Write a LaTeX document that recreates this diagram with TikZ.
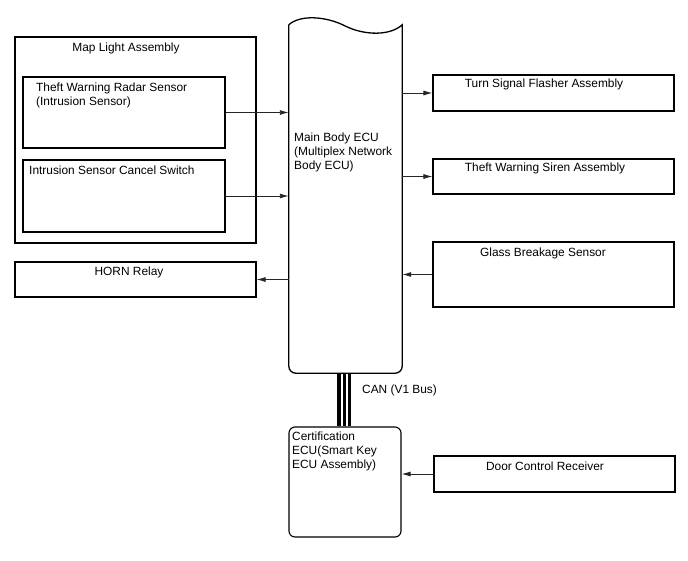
\documentclass[tikz,border=0pt]{standalone}
\usepackage{fontspec}
\setmainfont{Liberation Sans}
\usetikzlibrary{arrows.meta, calc}

\begin{document}
\begin{tikzpicture}[x=1pt, y=-1pt,
  box/.style={rectangle, draw=black, line width=1.1pt, inner sep=0pt},
  lbl/.style={font=\fontsize{11.9}{14}\selectfont, inner sep=0pt, align=left},
  arr/.style={draw=black!85, line width=0.9pt, -{Latex[length=9pt,width=5pt]}},
  eculine/.style={draw=black, line width=1.3pt},
]
\useasboundingbox (0,0) rectangle (688,560);

% left side
\node[box, minimum width=241, minimum height=206] (maplight) at (135.5,140) {};
\node[box, minimum width=202, minimum height=71]  (radar)    at (124,112.5) {};
\node[box, minimum width=202, minimum height=72]  (cancel)   at (124,196) {};
\node[box, minimum width=241, minimum height=35]  (horn)     at (135.5,279.5) {};

% right side
\node[box, minimum width=241, minimum height=36] (turn)  at (553.5,93) {};
\node[box, minimum width=241, minimum height=35] (siren) at (553.5,176.5) {};
\node[box, minimum width=241, minimum height=65] (glass) at (553.5,274.5) {};
\node[box, minimum width=241, minimum height=36] (door)  at (554.5,474) {};

% ECUs
\node[minimum width=113, minimum height=348, inner sep=0pt] (ecu) at (345.5,199) {};
\draw[eculine] (ecu.north west) .. controls +(11,-10) and +(-20,-10) .. ($(ecu.north west)+(56,1)$)
  .. controls +(20,10) and +(-12,11) .. (ecu.north east)
  [rounded corners=7pt] -- (ecu.south east) -- (ecu.south west) -- (ecu.north west);
\node[box, rounded corners=6pt, minimum width=112, minimum height=110] (cert) at (345,482) {};

% CAN bus
\foreach \dx/\lw in {-6.5/4.3, -1/2.3, 4.2/2.7}
  \draw[line width=\lw pt] ([xshift=\dx pt]ecu.south) -- ([xshift=\dx pt]ecu.south |- cert.north);

% texts
\node[lbl, anchor=north]      (maplighttxt) at (126,43)    {Map Light Assembly};
\node[lbl, anchor=north west] (radartxt)    at (36,82.7)   {Theft Warning Radar Sensor\\(Intrusion Sensor)};
\node[lbl, anchor=north west] (canceltxt)   at (29,166)    {Intrusion Sensor Cancel Switch};
\node[lbl, anchor=north]      (horntxt)     at (129,266.7) {HORN Relay};
\node[lbl, anchor=north west] (ecutxt)      at (294,132.3) {Main Body ECU\\(Multiplex Network\\Body ECU)};
\node[lbl, anchor=north]      (turntxt)     at (544,78.3)  {Turn Signal Flasher Assembly};
\node[lbl, anchor=north]      (sirentxt)    at (545,162.7) {Theft Warning Siren Assembly};
\node[lbl, anchor=north]      (glasstxt)    at (543,247.7) {Glass Breakage Sensor};
\node[lbl, anchor=north]      (doortxt)     at (545,461.7) {Door Control Receiver};
\node[lbl, anchor=north west] (certtxt)     at (292,431.7) {Certification\\ECU(Smart Key\\ECU Assembly)};
\node[lbl, anchor=north west] (cantxt)      at (362,385)   {CAN (V1 Bus)};

% connectors
\draw[arr] (radar.east)  -- (radar.east -| ecu.west);
\draw[arr] (cancel.east) -- (cancel.east -| ecu.west);
\draw[arr] (ecu.west |- horn.east)  -- (horn.east);
\draw[arr] (ecu.east |- turn.west)  -- (turn.west);
\draw[arr] (ecu.east |- siren.west) -- (siren.west);
\draw[arr] (glass.west) -- (glass.west -| ecu.east);
\draw[arr] (door.west)  -- (door.west -| cert.east);
\end{tikzpicture}
\end{document}
